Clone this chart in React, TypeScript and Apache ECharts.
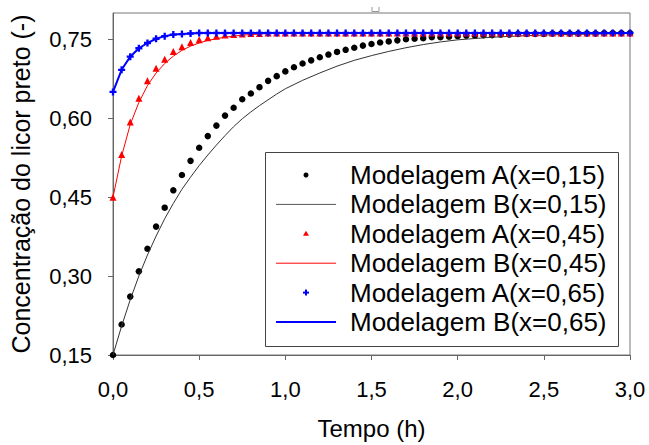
import React, { useEffect, useRef } from "react";
import * as echarts from "echarts";

// Sample times (h) for the "Modelagem A" point series
const timesA = [
  0, 0.05, 0.1, 0.15, 0.2, 0.25, 0.3, 0.35, 0.4, 0.45, 0.5, 0.55, 0.6, 0.65, 0.7, 0.75, 0.8, 0.85, 0.9, 0.95,
  1.0, 1.05, 1.1, 1.15, 1.2, 1.25, 1.3, 1.35, 1.4, 1.45, 1.5, 1.55, 1.6, 1.65, 1.7, 1.75, 1.8, 1.85, 1.9, 1.95,
  2.0, 2.05, 2.1, 2.15, 2.2, 2.25, 2.3, 2.35, 2.4, 2.45, 2.5, 2.55, 2.6, 2.65, 2.7, 2.75, 2.8, 2.85, 2.9, 2.95, 3.0,
];

const valuesA015 = [
  0.150, 0.208, 0.261, 0.309, 0.352, 0.394, 0.430, 0.463, 0.492, 0.519, 0.544, 0.566, 0.586, 0.605, 0.620, 0.636,
  0.647, 0.659, 0.671, 0.680, 0.689, 0.697, 0.704, 0.710, 0.716, 0.721, 0.726, 0.730, 0.734, 0.738, 0.741, 0.744,
  0.746, 0.748, 0.750, 0.751, 0.752, 0.754, 0.754, 0.755, 0.756, 0.757, 0.757, 0.758, 0.758, 0.759, 0.759, 0.760,
  0.760, 0.760, 0.760, 0.761, 0.761, 0.761, 0.761, 0.761, 0.761, 0.762, 0.762, 0.762, 0.762,
];

const valuesA045 = [
  0.450, 0.531, 0.593, 0.638, 0.671, 0.695, 0.712, 0.727, 0.736, 0.744, 0.749, 0.753, 0.756, 0.758, 0.759, 0.760,
  0.761, 0.761, 0.762, 0.762, 0.762, 0.762, 0.762, 0.762, 0.762, 0.762, 0.762, 0.762, 0.762, 0.762, 0.762, 0.762,
  0.762, 0.762, 0.762, 0.762, 0.762, 0.762, 0.762, 0.762, 0.762, 0.762, 0.762, 0.762, 0.762, 0.762, 0.762, 0.762,
  0.762, 0.762, 0.762, 0.762, 0.762, 0.762, 0.762, 0.762, 0.762, 0.762, 0.762, 0.762, 0.762,
];

const valuesA065 = [
  0.650, 0.692, 0.717, 0.733, 0.743, 0.751, 0.756, 0.759, 0.760, 0.761, 0.762, 0.762, 0.762, 0.762, 0.762, 0.762,
  0.762, 0.762, 0.762, 0.762, 0.762, 0.762, 0.762, 0.762, 0.762, 0.762, 0.762, 0.762, 0.762, 0.762, 0.762, 0.762,
  0.762, 0.762, 0.762, 0.762, 0.762, 0.762, 0.762, 0.762, 0.762, 0.762, 0.762, 0.762, 0.762, 0.762, 0.762, 0.762,
  0.762, 0.762, 0.762, 0.762, 0.762, 0.762, 0.762, 0.762, 0.762, 0.762, 0.762, 0.762, 0.762,
];

// "Modelagem B" curves
const timesB015 = [
  0, 0.05, 0.1, 0.15, 0.2, 0.25, 0.3, 0.35, 0.4, 0.45, 0.5, 0.55, 0.6, 0.65, 0.7, 0.75, 0.8, 0.85, 0.9, 0.95,
  1.0, 1.1, 1.2, 1.3, 1.4, 1.5, 1.6, 1.7, 1.8, 1.9, 2.0, 2.2, 2.4, 2.6, 2.8, 3.0,
];
const valuesB015 = [
  0.150, 0.205, 0.255, 0.300, 0.340, 0.376, 0.409, 0.438, 0.465, 0.488, 0.510, 0.530, 0.549, 0.567, 0.584, 0.599,
  0.612, 0.624, 0.635, 0.646, 0.656, 0.672, 0.686, 0.699, 0.710, 0.719, 0.727, 0.734, 0.740, 0.745, 0.749, 0.754,
  0.757, 0.759, 0.760, 0.761,
];

const timesB045 = [0, 0.05, 0.1, 0.15, 0.2, 0.25, 0.3, 0.35, 0.4, 0.45, 0.5, 0.55, 0.6, 0.65, 0.7, 0.75, 0.8, 0.85, 0.9, 1.0, 1.2, 3.0];
const valuesB045 = [0.450, 0.528, 0.588, 0.630, 0.662, 0.686, 0.704, 0.718, 0.729, 0.737, 0.743, 0.748, 0.751, 0.754, 0.756, 0.758, 0.759, 0.760, 0.761, 0.761, 0.762, 0.762];

const timesB065 = [0, 0.05, 0.1, 0.15, 0.2, 0.25, 0.3, 0.35, 0.4, 0.45, 0.5, 0.6, 0.8, 3.0];
const valuesB065 = [0.650, 0.692, 0.717, 0.733, 0.743, 0.751, 0.756, 0.759, 0.760, 0.761, 0.762, 0.762, 0.762, 0.762];

const seriesNames = [
  "Modelagem A(x=0,15)",
  "Modelagem B(x=0,15)",
  "Modelagem A(x=0,45)",
  "Modelagem B(x=0,45)",
  "Modelagem A(x=0,65)",
  "Modelagem B(x=0,65)",
];

const yTicks = [0.15, 0.3, 0.45, 0.6, 0.75];
const xTicks = [0, 0.5, 1.0, 1.5, 2.0, 2.5, 3.0];

const FONT = "'Liberation Sans', Arial, sans-serif";
const PLUS = "path://M2,0L4,0L4,2L6,2L6,4L4,4L4,6L2,6L2,4L0,4L0,2L2,2Z";

const zip = (t: number[], v: number[]) => t.map((x, i) => [x, v[i]]);

export default function App() {
  const ref = useRef<HTMLDivElement>(null);
  useEffect(() => {
    if (!ref.current) return;
    const chart = echarts.init(ref.current, null, { renderer: "svg" });

    const legX = 265, legY = 152, legW = 353, legH = 194;
    const rowY0 = 175, rowStep = 29.4;
    const symX = 306, lineX1 = 276, lineX2 = 336, textX = 350;
    const legendGraphics: any[] = [
      {
        type: "rect",
        shape: { x: legX + 0.5, y: legY + 0.5, width: legW, height: legH },
        style: { fill: "#fff", stroke: "#444", lineWidth: 1 },
        z: 100,
      },
    ];
    seriesNames.forEach((name, i) => {
      legendGraphics.push({
        type: "text",
        x: textX,
        y: rowY0 + i * rowStep,
        style: { text: name, font: `26px ${FONT}`, fill: "#000", verticalAlign: "middle", align: "left" },
        z: 101,
      });
    });
    // legend keys
    legendGraphics.push(
      { type: "circle", shape: { cx: symX, cy: rowY0, r: 2.5 }, style: { fill: "#000" }, z: 101 },
      { type: "line", shape: { x1: lineX1, y1: rowY0 + rowStep, x2: lineX2, y2: rowY0 + rowStep }, style: { stroke: "#555", lineWidth: 1 }, z: 101 },
      { type: "polygon", shape: { points: [[symX, rowY0 + 2 * rowStep - 3], [symX - 3, rowY0 + 2 * rowStep + 2], [symX + 3, rowY0 + 2 * rowStep + 2]] }, style: { fill: "#ff0000" }, z: 101 },
      { type: "line", shape: { x1: lineX1, y1: rowY0 + 3 * rowStep, x2: lineX2, y2: rowY0 + 3 * rowStep }, style: { stroke: "#ff0000", lineWidth: 1 }, z: 101 },
      { type: "rect", shape: { x: symX - 3, y: rowY0 + 4 * rowStep - 1, width: 6, height: 2 }, style: { fill: "#0000ff" }, z: 101 },
      { type: "rect", shape: { x: symX - 1, y: rowY0 + 4 * rowStep - 3, width: 2, height: 6 }, style: { fill: "#0000ff" }, z: 101 },
      { type: "line", shape: { x1: lineX1, y1: rowY0 + 5 * rowStep, x2: lineX2, y2: rowY0 + 5 * rowStep }, style: { stroke: "#0000ff", lineWidth: 2 }, z: 101 },
      // small mark above the frame
      { type: "polyline", shape: { points: [[372, 7], [372, 11.5], [379, 11.5], [379, 7]] }, style: { stroke: "#999", lineWidth: 1, fill: null }, z: 101 }
    );

    chart.setOption({
      animation: false,
      backgroundColor: "#fff",
      grid: { left: 112, right: 19, top: 13, bottom: 84, show: true, borderColor: "#777", borderWidth: 1 },
      xAxis: {
        type: "value",
        min: 0,
        max: 3,
        interval: 0.5,
        name: "Tempo (h)",
        nameLocation: "middle",
        nameGap: 61,
        nameTextStyle: { fontSize: 24, fontFamily: FONT, color: "#000" },
        axisLine: { show: true, lineStyle: { color: "#666", width: 1 } },
        axisTick: { show: true, length: 5, inside: false, lineStyle: { color: "#666" }, customValues: xTicks },
        axisLabel: {
          fontSize: 22,
          fontFamily: FONT,
          color: "#000",
          margin: 23,
          customValues: xTicks,
          formatter: (v: number) => v.toFixed(1).replace(".", ","),
        },
        splitLine: { show: false },
      },
      yAxis: {
        type: "value",
        min: 0.15,
        max: 0.8,
        interval: 0.15,
        name: "Concentração do licor preto (-)",
        nameLocation: "middle",
        nameGap: 80,
        nameRotate: 90,
        nameTextStyle: { fontSize: 25, fontFamily: FONT, color: "#000" },
        axisLine: { show: true, lineStyle: { color: "#666", width: 1 } },
        axisTick: { show: true, length: 5, inside: false, lineStyle: { color: "#666" }, customValues: yTicks },
        axisLabel: {
          fontSize: 22,
          fontFamily: FONT,
          color: "#000",
          margin: 21,
          customValues: yTicks,
          formatter: (v: number) => v.toFixed(2).replace(".", ","),
        },
        splitLine: { show: false },
      },
      series: [
        {
          name: seriesNames[0],
          type: "scatter",
          data: zip(timesA, valuesA015),
          symbol: "circle",
          symbolSize: 6.5,
          itemStyle: { color: "#000", opacity: 1 },
          z: 2,
        },
        {
          name: seriesNames[1],
          type: "line",
          data: zip(timesB015, valuesB015),
          showSymbol: false,
          symbol: "none",
          smooth: false,
          lineStyle: { color: "#333", width: 1 },
          z: 3,
        },
        {
          name: seriesNames[2],
          type: "scatter",
          data: zip(timesA, valuesA045),
          symbol: "triangle",
          symbolSize: 7,
          itemStyle: { color: "#ff0000", opacity: 1 },
          z: 4,
        },
        {
          name: seriesNames[3],
          type: "line",
          data: zip(timesB045, valuesB045),
          showSymbol: false,
          symbol: "none",
          smooth: false,
          lineStyle: { color: "#ff0000", width: 1 },
          z: 5,
        },
        {
          name: seriesNames[4],
          type: "scatter",
          data: zip(timesA, valuesA065),
          symbol: PLUS,
          symbolSize: 7,
          itemStyle: { color: "#0000ff", opacity: 1 },
          z: 6,
        },
        {
          name: seriesNames[5],
          type: "line",
          data: zip(timesB065, valuesB065),
          showSymbol: false,
          symbol: "none",
          smooth: false,
          lineStyle: { color: "#0000ff", width: 2 },
          z: 7,
        },
      ],
      graphic: legendGraphics,
    });

    return () => chart.dispose();
  }, []);

  return <div ref={ref} style={{ position: "absolute", left: 0, top: 0, width: 649, height: 445 }} />;
}
